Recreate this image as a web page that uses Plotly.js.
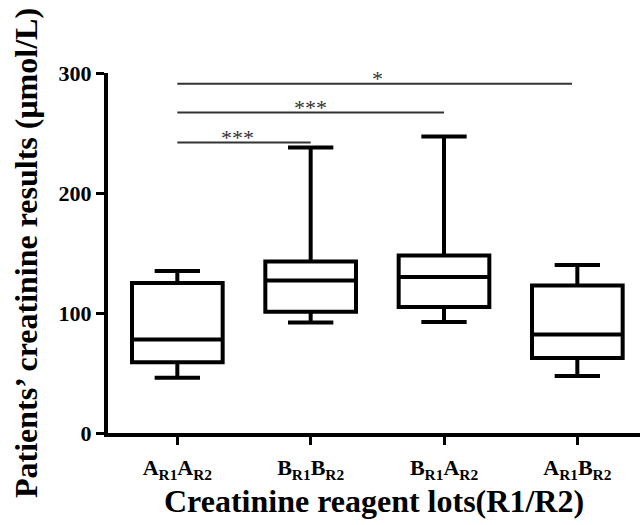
<!DOCTYPE html>
<html>
<head>
<meta charset="utf-8">
<script src="https://cdn.plot.ly/plotly-3.0.1.min.js"></script>
<style>html,body{margin:0;padding:0;background:#fff;}#chart{width:642px;height:525px;}</style>
</head>
<body>
<div id="chart"></div>
<script>
// Categories (reagent lots R1/R2)
const categories = ['A<sub>R1</sub>A<sub>R2</sub>', 'B<sub>R1</sub>B<sub>R2</sub>', 'B<sub>R1</sub>A<sub>R2</sub>', 'A<sub>R1</sub>B<sub>R2</sub>'];
// Box statistics (µmol/L)
const lowerWhisker = [46, 92, 92.5, 47.5];
const q1Values     = [59, 101, 105, 62.5];
const medianValues = [78, 127, 130, 82];
const q3Values     = [125, 143, 148, 123];
const upperWhisker = [135, 238, 247, 140];
// Significance brackets
const sigFrom   = [0, 0, 0];
const sigTo     = [1, 2, 3];
const sigLevel  = [242, 267, 291];
const sigLabels = ['***', '***', '*'];
const yTicks = [0, 100, 200, 300];

const serif = 'Liberation Serif, Times New Roman, serif';

const trace = {
  type: 'box',
  x: categories,
  q1: q1Values,
  median: medianValues,
  q3: q3Values,
  lowerfence: lowerWhisker,
  upperfence: upperWhisker,
  boxpoints: false,
  width: 0.68,
  whiskerwidth: 0.5,
  fillcolor: 'rgba(255,255,255,0)',
  line: {color: '#000', width: 4},
  hoverinfo: 'skip',
  showlegend: false
};

const shapes = sigFrom.map((f, i) => ({
  type: 'line', xref: 'x', yref: 'y',
  x0: f, x1: sigTo[i] - (sigTo[i] === 3 ? 0.04 : 0),
  y0: sigLevel[i], y1: sigLevel[i],
  line: {color: '#333', width: 2}
}));

const annotations = sigFrom.map((f, i) => ({
  xref: 'x', yref: 'y',
  x: (f + sigTo[i]) / 2 - (i === 0 ? 0.05 : 0),
  y: sigLevel[i],
  text: sigLabels[i],
  showarrow: false,
  yanchor: 'bottom',
  yshift: -9,
  font: {family: serif, size: 22, color: '#333'}
}));

const layout = {
  width: 642, height: 525,
  margin: {l: 108, r: 2, t: 73, b: 92},
  paper_bgcolor: '#fff', plot_bgcolor: '#fff',
  font: {family: serif, color: '#000'},
  xaxis: {
    type: 'category',
    range: [-0.52, 3.47],
    showline: true, linecolor: '#000', linewidth: 4,
    ticks: 'outside', ticklen: 8, tickwidth: 3, tickcolor: '#000',
    showgrid: false, zeroline: false,
    tickfont: {family: serif, size: 22, weight: 'bold', color: '#000'},
    ticklabelstandoff: 4,
    title: {text: 'Creatinine reagent lots(R1/R2)', font: {family: serif, size: 32, weight: 'bold', color: '#000'}, standoff: 8}
  },
  yaxis: {
    range: [0, 300],
    tickvals: yTicks,
    ticktext: yTicks.map(String),
    showline: true, linecolor: '#000', linewidth: 4,
    ticks: 'outside', ticklen: 8, tickwidth: 3, tickcolor: '#000',
    showgrid: false, zeroline: false,
    tickfont: {family: serif, size: 22, weight: 'bold', color: '#000'},
    title: {text: 'Patients\u2019 creatinine results (\u03bcmol/L)', font: {family: serif, size: 32, weight: 'bold', color: '#000'}, standoff: 12}
  },
  shapes: shapes,
  annotations: annotations
};

Plotly.newPlot('chart', [trace], layout, {displayModeBar: false, staticPlot: true});
</script>
</body>
</html>
